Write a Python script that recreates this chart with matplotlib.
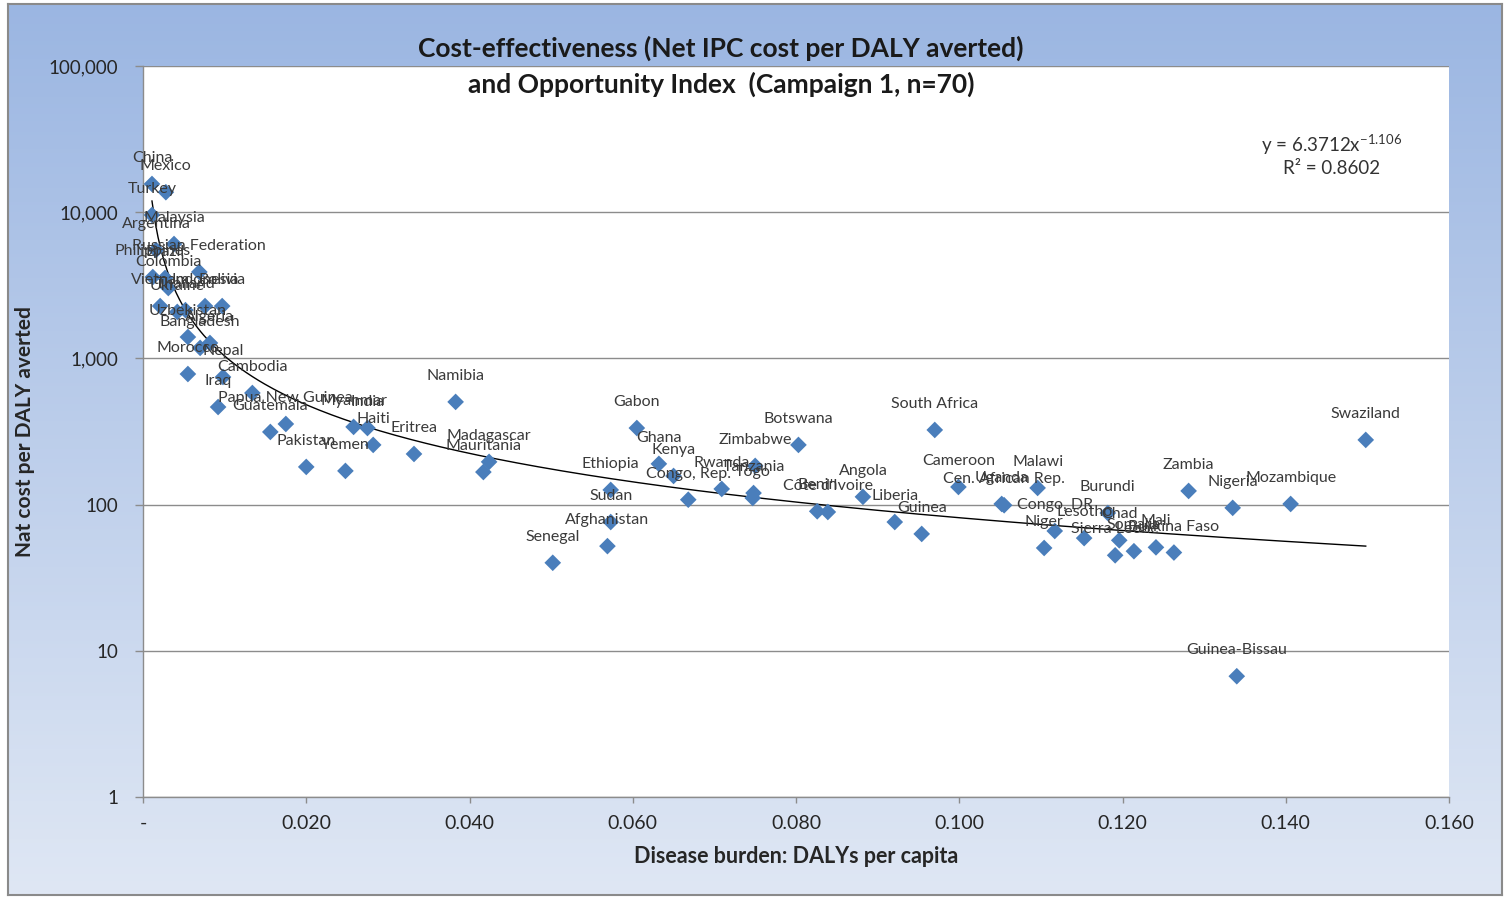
import numpy as np
import matplotlib
matplotlib.use("Agg")
from matplotlib import pyplot as plt
from matplotlib.ticker import FixedLocator, FuncFormatter, NullLocator

plt.rcParams["font.family"] = ["Lato", "DejaVu Sans"]
plt.rcParams["mathtext.fontset"] = "custom"
plt.rcParams["mathtext.rm"] = "Lato"

# values
countries = [
    "China", "Mexico", "Turkey", "Malaysia", "Argentina", "Russian Federation",
    "Philippines", "Brazil", "Colombia", "Vietnam", "Indonesia", "Bolivia",
    "Thailand", "Ukraine", "Uzbekistan", "Algeria", "Bangladesh", "Morocco",
    "Nepal", "Cambodia", "Iraq", "Papua New Guinea", "Guatemala", "Myanmar",
    "India", "Haiti", "Eritrea", "Pakistan", "Yemen", "Namibia", "Madagascar",
    "Mauritania", "Gabon", "Ghana", "Kenya", "Ethiopia", "Congo, Rep.", "Sudan",
    "Afghanistan", "Senegal", "Botswana", "Zimbabwe", "Rwanda", "Tanzania",
    "Togo", "Benin", "Côte d'Ivoire", "South Africa", "Angola", "Liberia",
    "Guinea", "Cameroon", "Cen. African Rep.", "Uganda", "Malawi", "Congo, DR",
    "Niger", "Burundi", "Lesotho", "Chad", "Sierra Leone", "Somalia", "Mali",
    "Burkina Faso", "Zambia", "Nigeria", "Mozambique", "Swaziland",
    "Guinea-Bissau",
]
dalys_per_capita = [
    0.0011, 0.0028, 0.0011, 0.0038, 0.0016, 0.0069,
    0.0012, 0.0027, 0.0031, 0.0021, 0.0076, 0.0097,
    0.0052, 0.0042, 0.0055, 0.0082, 0.0070, 0.0055,
    0.0098, 0.0134, 0.0092, 0.0175, 0.0156, 0.0258,
    0.0275, 0.0282, 0.0332, 0.0200, 0.0248, 0.0383, 0.0424,
    0.0417, 0.0605, 0.0632, 0.0650, 0.0573, 0.0668, 0.0573,
    0.0569, 0.0502, 0.0803, 0.0750, 0.0709, 0.0748,
    0.0747, 0.0826, 0.0839, 0.0970, 0.0882, 0.0921,
    0.0954, 0.0999, 0.1055, 0.1052, 0.1096, 0.1117,
    0.1104, 0.1182, 0.1153, 0.1196, 0.1191, 0.1214, 0.1241,
    0.1263, 0.1281, 0.1335, 0.1406, 0.1498,
    0.1340,
]
net_cost_per_daly = [
    15600, 13700, 9570, 6060, 5510, 3900,
    3600, 3550, 3030, 2280, 2280, 2280,
    2140, 2080, 1400, 1275, 1180, 782,
    746, 580, 465, 356, 314, 340,
    334, 256, 222, 181, 170, 504, 196,
    167, 334, 190, 157, 126, 108, 76,
    52, 40, 256, 184, 128, 120,
    111, 90, 89, 324, 113, 76,
    63, 132, 99, 101, 130, 66,
    50.5, 87.6, 59, 57, 45, 48, 51,
    47, 124, 95, 101, 277,
    6.7,
]

trend_coef = 6.3712
trend_exp = -1.106
r_squared = 0.8602

y_ticks = [1, 10, 100, 1000, 10000, 100000]
x_ticks = [0.0, 0.02, 0.04, 0.06, 0.08, 0.10, 0.12, 0.14, 0.16]

W, H = 1506, 898
fig = plt.figure(figsize=(W / 100, H / 100), dpi=100)
fig.patch.set_facecolor("white")

# chart area with blue gradient and grey frame
bg = fig.add_axes([8 / W, 1 - 895 / H, (1502 - 8) / W, (895 - 4) / H])
top_col = np.array([0x9b, 0xb6, 0xe2]) / 255
bot_col = np.array([0xdf, 0xe7, 0xf4]) / 255
t = np.linspace(0, 1, 256)[:, None]
grad = (top_col[None, :] * (1 - t) + bot_col[None, :] * t)[:, None, :]
bg.imshow(grad, aspect="auto", extent=(0, 1, 0, 1), origin="upper")
bg.set_xticks([])
bg.set_yticks([])
for s in bg.spines.values():
    s.set_color("#8a8a8a")
    s.set_linewidth(1.5)

ax = fig.add_axes([143 / W, 1 - 797 / H, (1449 - 143) / W, (797 - 66) / H])
ax.set_facecolor("white")

ax.scatter(dalys_per_capita, net_cost_per_daly, marker="D", s=72,
           color="#4a7ebb", edgecolors="none", zorder=3)

# power trendline from the fitted coefficients
xs = np.linspace(min(dalys_per_capita), max(dalys_per_capita), 400)
ax.plot(xs, trend_coef * xs ** trend_exp, color="black", lw=1.0, zorder=2)

for name, xv, yv in zip(countries, dalys_per_capita, net_cost_per_daly):
    ax.annotate(name, xy=(xv, yv), xytext=(0, 26), textcoords="offset pixels",
                ha="center", va="center", fontsize=11.5, color="#3a3a3a",
                zorder=4, annotation_clip=False)

ax.set_yscale("log")
ax.set_ylim(1, 100000)
ax.set_xlim(0, 0.16)
ax.yaxis.set_major_locator(FixedLocator(y_ticks))
ax.yaxis.set_minor_locator(NullLocator())
ax.yaxis.set_major_formatter(FuncFormatter(lambda v, p: f"{v:,.0f}"))
ax.xaxis.set_major_locator(FixedLocator(x_ticks))
ax.xaxis.set_major_formatter(FuncFormatter(lambda v, p: "-" if v == 0 else f"{v:.3f}"))

ax.grid(axis="y", color="#8c8c8c", lw=1.0)
ax.set_axisbelow(True)
for side in ("top", "right"):
    ax.spines[side].set_visible(False)
for side in ("left", "bottom"):
    ax.spines[side].set_color("#8c8c8c")
    ax.spines[side].set_linewidth(1.0)

ax.tick_params(axis="y", length=6, width=1, color="#8c8c8c", pad=12,
               labelsize=13.5, labelcolor="#262626")
ax.tick_params(axis="x", length=4, width=1, color="#8c8c8c", pad=9,
               labelsize=14, labelcolor="#262626")

ax.set_xlabel("Disease burden: DALYs per capita", fontsize=15.5, fontweight="bold",
              color="#262626", labelpad=10)
fig.text(25 / W, 1 - 432 / H, "Nat cost per DALY averted", rotation=90,
         ha="center", va="center", fontsize=15, fontweight="bold", color="#262626")

fig.text(721 / W, 1 - 48 / H, "Cost-effectiveness (Net IPC cost per DALY averted)",
         ha="center", va="center", fontsize=19, fontweight="bold", color="#1a1a1a")
fig.text(721 / W, 1 - 84 / H, "and Opportunity Index  (Campaign 1, n=70)",
         ha="center", va="center", fontsize=19, fontweight="bold", color="#1a1a1a")

fig.text(1332 / W, 1 - 145 / H, "y = 6.3712x$^{\\mathrm{-1.106}}$",
         ha="center", va="center", fontsize=13.5, color="#333333")
fig.text(1332 / W, 1 - 169 / H, f"R² = {r_squared}",
         ha="center", va="center", fontsize=13.5, color="#333333")

fig.savefig("out.png", dpi=100)
